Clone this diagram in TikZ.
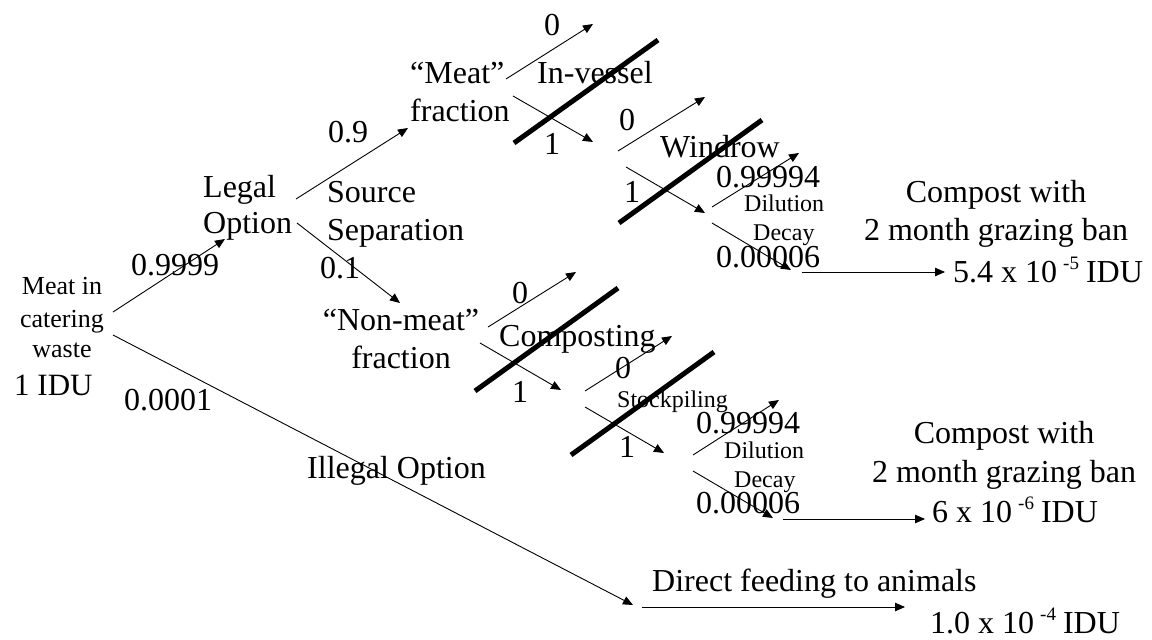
\documentclass[tikz,border=0pt]{standalone}
\usepackage{fontspec}
\setmainfont{Liberation Serif}
\usetikzlibrary{arrows.meta}
\newcommand{\supx}[1]{\hspace{6pt}\raisebox{13pt}{\fontsize{19}{19}\selectfont #1}\hspace{7pt}}
\begin{document}
\begin{tikzpicture}[x=1pt,y=-1pt,
  big/.style={font=\fontsize{32}{38}\selectfont, inner sep=0pt},
  mid/.style={font=\fontsize{26}{30}\selectfont, inner sep=0pt},
  sml/.style={font=\fontsize{24}{28}\selectfont, inner sep=0pt},
  arr/.style={line width=0.9pt, -{Triangle[length=10pt,width=8.5pt]}},
  bar/.style={line width=5pt}]
\useasboundingbox (0,0) rectangle (1152,640);

% ---------- texts ----------
\node[mid, anchor=base] (tMeatIn) at (62,294) {Meat in};
\node[mid, anchor=base] (tCater) at (62,327) {catering};
\node[mid, anchor=base] (tWaste) at (62,357) {waste};
\node[big, anchor=base west, font=\fontsize{31}{36}\selectfont] (tIDU) at (14,395) {1 IDU};
\node[big, anchor=base west] (p9999) at (131,275) {0.9999};
\node[big, anchor=base west] (p0001) at (124,410) {0.0001};
\node[big, anchor=base west] (tLegal) at (203,197) {Legal};
\node[big, anchor=base west] (tOption) at (203,233) {Option};
\node[big, anchor=base west] (p09) at (328,142) {0.9};
\node[big, anchor=base west] (tSource) at (327,202) {Source};
\node[big, anchor=base west] (tSep) at (327,240) {Separation};
\node[big, anchor=base west] (p01) at (320,278) {0.1};

\node[big, anchor=base west] (tMeatQ) at (410,83) {“Meat”};
\node[big, anchor=base west] (tFrac1) at (410,121) {fraction};
\node[big, anchor=base] (z1) at (552,35) {0};
\node[big, anchor=base west] (tInv) at (537,83) {In-vessel};
\node[big, anchor=base] (o1) at (552,154) {1};
\node[big, anchor=base] (z2) at (627,130) {0};
\node[big, anchor=base] (o2) at (632,202) {1};
\node[big, anchor=base west] (tWind) at (660,157) {Windrow};
\node[big, anchor=base west] (pA1) at (716,187) {0.99994};
\node[sml, anchor=base west] (tDil1) at (744,211) {Dilution};
\node[sml, anchor=base west] (tDec1) at (753,240) {Decay};
\node[big, anchor=base west] (pA2) at (716,267) {0.00006};
\node[big, anchor=base] (tComp1) at (996,202) {Compost with};
\node[big, anchor=base] (tBan1) at (996,240) {2 month grazing ban};
\node[big, anchor=base west] (rA) at (953,282) {5.4 x 10\supx{-5}IDU};

\node[big, anchor=base] (tNonQ) at (401,330) {“Non-meat”};
\node[big, anchor=base] (tFrac2) at (401,368) {fraction};
\node[big, anchor=base] (z3) at (520,303) {0};
\node[big, anchor=base west] (tCompost) at (499,346) {Composting};
\node[big, anchor=base] (o3) at (520,402) {1};
\node[big, anchor=base] (z4) at (623,378) {0};
\node[sml, anchor=base west] (tStock) at (617,407) {Stockpiling};
\node[big, anchor=base] (o4) at (627,457) {1};
\node[big, anchor=base west] (pB1) at (696,433) {0.99994};
\node[sml, anchor=base west] (tDil2) at (724,458) {Dilution};
\node[sml, anchor=base west] (tDec2) at (734,487) {Decay};
\node[big, anchor=base west] (pB2) at (696,513) {0.00006};
\node[big, anchor=base] (tComp2) at (1004,443) {Compost with};
\node[big, anchor=base] (tBan2) at (1004,482) {2 month grazing ban};
\node[big, anchor=base west] (rB) at (932,522) {6 x 10\supx{-6}IDU};

\node[big, anchor=base west] (tIll) at (307,478) {Illegal Option};
\node[big, anchor=base west] (tDirect) at (652,591) {Direct feeding to animals};
\node[big, anchor=base west] (rC) at (930,633) {1.0 x 10\supx{-4}IDU};

% ---------- connector end points ----------
\coordinate (a1s) at (113,312);  \coordinate (a1e) at (225,239);
\coordinate (a2s) at (113,335);  \coordinate (a2e) at (633,605);
\coordinate (a3s) at (296,199);  \coordinate (a3e) at (408,128);
\coordinate (a4s) at (297,223);  \coordinate (a4e) at (400,303);
\coordinate (a5s) at (506,79);   \coordinate (a5e) at (593,24);
\coordinate (a6s) at (513,96);   \coordinate (a6e) at (593,142);
\coordinate (a7s) at (618,151);  \coordinate (a7e) at (705,97);
\coordinate (a8s) at (626,167);  \coordinate (a8e) at (705,213);
\coordinate (a9s) at (712,207);  \coordinate (a9e) at (799,153);
\coordinate (a10s) at (712,223); \coordinate (a10e) at (791,270);
\coordinate (a11s) at (802,272); \coordinate (a11e) at (945,272);
\coordinate (a12s) at (488,327); \coordinate (a12e) at (576,272);
\coordinate (a13s) at (480,343); \coordinate (a13e) at (561,390);
\coordinate (a14s) at (585,391); \coordinate (a14e) at (672,336);
\coordinate (a15s) at (585,407); \coordinate (a15e) at (664,453);
\coordinate (a16s) at (693,455); \coordinate (a16e) at (779,400);
\coordinate (a17s) at (693,471); \coordinate (a17e) at (773,518);
\coordinate (a18s) at (783,519); \coordinate (a18e) at (925,519);
\coordinate (a19s) at (642,607); \coordinate (a19e) at (905,607);

\coordinate (b1s) at (514,143); \coordinate (b1e) at (658,40);
\coordinate (b2s) at (619,223); \coordinate (b2e) at (762,120);
\coordinate (b3s) at (475,391); \coordinate (b3e) at (618,288);
\coordinate (b4s) at (571,455); \coordinate (b4e) at (714,352);

% ---------- arrows ----------
\foreach \i in {1,...,19} \draw[arr] (a\i s) -- (a\i e);

% ---------- blocking bars ----------
\foreach \i in {1,...,4} \draw[bar] (b\i s) -- (b\i e);
\end{tikzpicture}
\end{document}
